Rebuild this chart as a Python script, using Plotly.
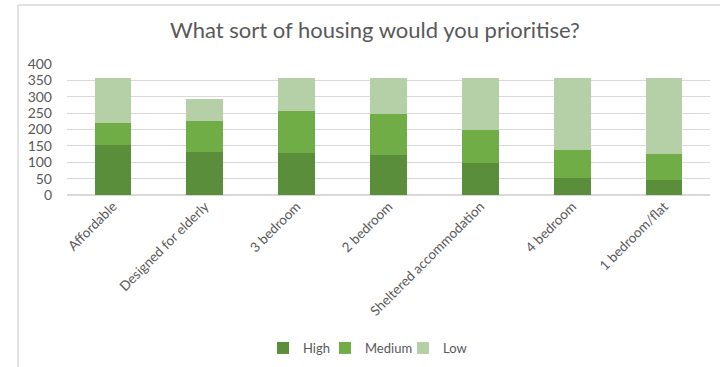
import plotly.graph_objects as go

categories = ["Affordable", "Designed for elderly", "3 bedroom", "2 bedroom",
              "Sheltered accommodation", "4 bedroom", "1 bedroom/flat"]
high = [154, 131, 128, 122, 98, 52, 46]
medium = [67, 95, 129, 126, 100, 84, 78]
low = [137, 68, 101, 110, 160, 222, 234]
series_names = ["High", "Medium", "Low"]
colors = ["#5b8e3a", "#70ad47", "#b5cfa6"]
y_ticks = [0, 50, 100, 150, 200, 250, 300, 350, 400]

font_family = "Lato, 'Open Sans', sans-serif"
text_color = "#595959"

W, H = 720, 367
l, r, t, b = 67, 10, 64, 172
pw = W - l - r
ph = H - t - b

legend_ids = ["legend", "legend2", "legend3"]
legend_px = [263, 325, 403]  # left edge of each legend entry, pixels

fig = go.Figure()
for name, vals, col, lid in zip(series_names, [high, medium, low], colors, legend_ids):
    fig.add_trace(go.Bar(x=categories, y=vals, name=name, marker_color=col,
                         marker_line_width=0, legend=lid))

legend_y = -(348 - (t + ph)) / ph
leg_common = dict(orientation="h", xanchor="left", y=legend_y, yanchor="middle",
                  font=dict(size=13, color=text_color), itemwidth=30,
                  bgcolor="rgba(0,0,0,0)")
legend_layout = {lid: dict(x=(px - l) / pw, **leg_common)
                 for lid, px in zip(legend_ids, legend_px)}

fig.update_layout(
    width=W, height=H,
    barmode="stack", bargap=0.6,
    plot_bgcolor="white", paper_bgcolor="white",
    margin=dict(l=l, r=r, t=t, b=b, autoexpand=False),
    font=dict(family=font_family, color=text_color, size=12),
    title=dict(text="What sort of housing would you prioritise?",
               x=(375 - l) / pw, xref="paper", xanchor="center",
               y=1 - 30 / H, yanchor="middle",
               font=dict(size=22, color=text_color, family=font_family)),
    showlegend=True,
    **legend_layout,
)
fig.update_yaxes(range=[0, 400], tickvals=y_ticks, showgrid=True,
                 gridcolor="#d9d9d9", gridwidth=1, zeroline=True,
                 zerolinecolor="#d9d9d9", showline=False, ticks="",
                 tickfont=dict(size=14, color=text_color), ticklabelstandoff=14)
fig.update_xaxes(tickangle=-45, showline=False, ticks="",
                 tickfont=dict(size=13.5, color=text_color))

# Chart-area border (partially visible in reference)
x_left = (18 - l) / pw
y_top = (t + ph - 5) / ph
fig.add_shape(type="line", xref="paper", yref="paper", x0=x_left, x1=(W - l) / pw,
              y0=y_top, y1=y_top, line=dict(color="#d9d9d9", width=1.5))
fig.add_shape(type="line", xref="paper", yref="paper", x0=x_left, x1=x_left,
              y0=y_top, y1=-(H - t - ph) / ph, line=dict(color="#d9d9d9", width=1.5))

fig.write_html("out.html")
